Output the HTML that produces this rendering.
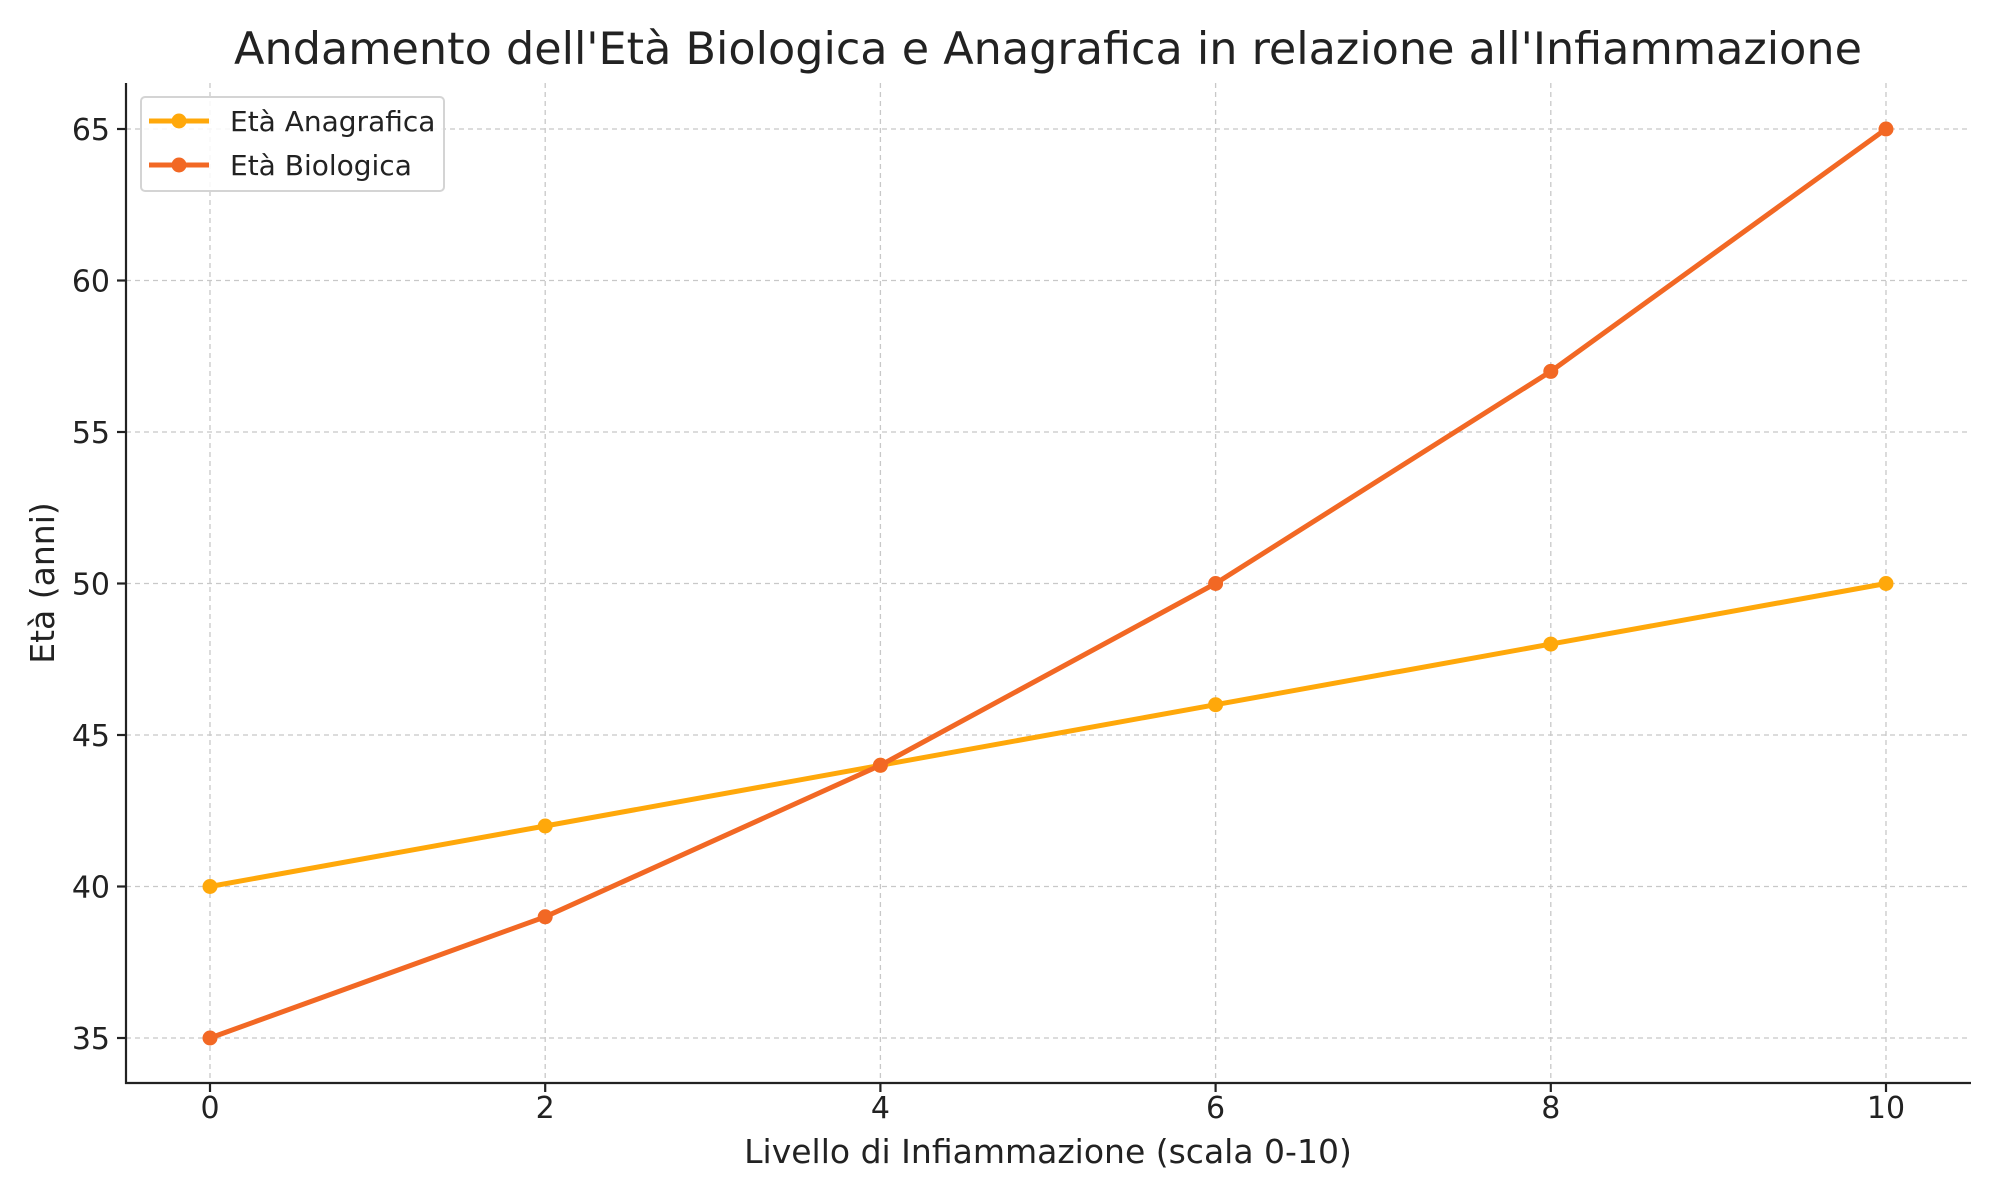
<!DOCTYPE html>
<html><head><meta charset="utf-8"><style>body{margin:0;background:#fff}svg{display:block}text{font-family:"DejaVu Sans","Liberation Sans",sans-serif;fill:#222}</style></head><body>
<svg width="2000" height="1200" xmlns="http://www.w3.org/2000/svg">
<rect width="2000" height="1200" fill="#fff"/>
<g stroke="#c8c8c8" stroke-width="1.3" stroke-dasharray="5,4">
<line x1="126" x2="1971" y1="129" y2="129"/><line x1="126" x2="1971" y1="280.5" y2="280.5"/><line x1="126" x2="1971" y1="432" y2="432"/><line x1="126" x2="1971" y1="583.5" y2="583.5"/><line x1="126" x2="1971" y1="735" y2="735"/><line x1="126" x2="1971" y1="886.5" y2="886.5"/><line x1="126" x2="1971" y1="1038" y2="1038"/>
<line y1="83" y2="1083" x1="210" x2="210"/><line y1="83" y2="1083" x1="545.2" x2="545.2"/><line y1="83" y2="1083" x1="880.4" x2="880.4"/><line y1="83" y2="1083" x1="1215.6" x2="1215.6"/><line y1="83" y2="1083" x1="1550.8" x2="1550.8"/><line y1="83" y2="1083" x1="1886" x2="1886"/>
</g>
<g stroke="#222" stroke-width="2.2">
<line x1="126" y1="83" x2="126" y2="1084"/><line x1="125" y1="1083" x2="1971" y2="1083"/>
<line x1="117" x2="126" y1="129" y2="129"/><line x1="117" x2="126" y1="280.5" y2="280.5"/><line x1="117" x2="126" y1="432" y2="432"/><line x1="117" x2="126" y1="583.5" y2="583.5"/><line x1="117" x2="126" y1="735" y2="735"/><line x1="117" x2="126" y1="886.5" y2="886.5"/><line x1="117" x2="126" y1="1038" y2="1038"/>
<line y1="1083" y2="1092" x1="210" x2="210"/><line y1="1083" y2="1092" x1="545.2" x2="545.2"/><line y1="1083" y2="1092" x1="880.4" x2="880.4"/><line y1="1083" y2="1092" x1="1215.6" x2="1215.6"/><line y1="1083" y2="1092" x1="1550.8" x2="1550.8"/><line y1="1083" y2="1092" x1="1886" x2="1886"/>
</g>
<g font-size="30" text-anchor="end">
<text x="110" y="140">65</text><text x="110" y="291.5">60</text><text x="110" y="443">55</text><text x="110" y="594.5">50</text><text x="110" y="746">45</text><text x="110" y="897.5">40</text><text x="110" y="1049">35</text>
</g>
<g font-size="30" text-anchor="middle">
<text x="210" y="1118">0</text><text x="545.2" y="1118">2</text><text x="880.4" y="1118">4</text><text x="1215.6" y="1118">6</text><text x="1550.8" y="1118">8</text><text x="1886" y="1118">10</text>
<text x="1048" y="1163" font-size="33">Livello di Infiammazione (scala 0-10)</text>
<text x="1048" y="64" font-size="44.5" fill="#333">Andamento dell'Età Biologica e Anagrafica in relazione all'Infiammazione</text>
<text transform="translate(54,583) rotate(-90)" font-size="33">Età (anni)</text>
</g>
<polyline fill="none" stroke="#FFA80A" stroke-width="5" points="210,886.5 545.2,826 880.4,765.3 1215.6,704.7 1550.8,644.1 1886,583.5"/>
<g fill="#FFA80A"><circle cx="210" cy="886.5" r="7.5"/><circle cx="545.2" cy="826" r="7.5"/><circle cx="880.4" cy="765.3" r="7.5"/><circle cx="1215.6" cy="704.7" r="7.5"/><circle cx="1550.8" cy="644.1" r="7.5"/><circle cx="1886" cy="583.5" r="7.5"/></g>
<polyline fill="none" stroke="#F26824" stroke-width="5" points="210,1038 545.2,916.8 880.4,765.3 1215.6,583.5 1550.8,371.4 1886,129"/>
<g fill="#F26824"><circle cx="210" cy="1038" r="7.5"/><circle cx="545.2" cy="916.8" r="7.5"/><circle cx="880.4" cy="765.3" r="7.5"/><circle cx="1215.6" cy="583.5" r="7.5"/><circle cx="1550.8" cy="371.4" r="7.5"/><circle cx="1886" cy="129" r="7.5"/></g>
<rect x="141" y="97" width="303" height="94" rx="4" fill="#fff" fill-opacity="0.85" stroke="#d4d4d4" stroke-width="2"/>
<line x1="149" x2="209" y1="121" y2="121" stroke="#FFA80A" stroke-width="5"/><circle cx="179" cy="121" r="7.5" fill="#FFA80A"/>
<line x1="149" x2="209" y1="165" y2="165" stroke="#F26824" stroke-width="5"/><circle cx="179" cy="165" r="7.5" fill="#F26824"/>
<text x="230" y="131" font-size="28" fill="#333">Età Anagrafica</text>
<text x="230" y="175" font-size="28" fill="#333">Età Biologica</text>
</svg>
</body></html>
